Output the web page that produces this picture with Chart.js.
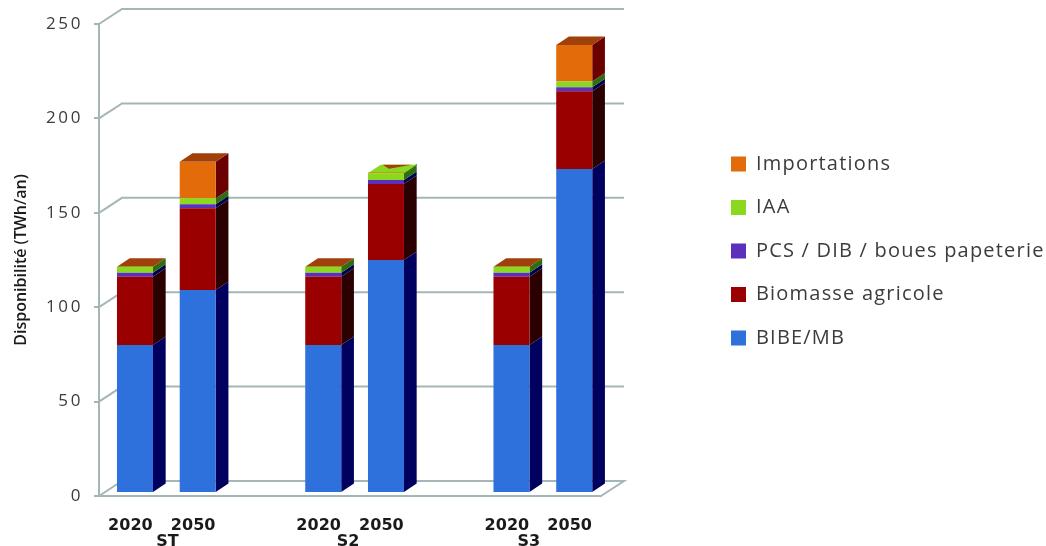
<!DOCTYPE html>
<html><head><meta charset="utf-8">
<style>html,body{margin:0;padding:0;background:#fff}canvas{display:block}</style>
<script src="https://cdn.jsdelivr.net/npm/chart.js@4/dist/chart.umd.min.js"></script>
</head><body><canvas id="c" width="1046" height="546"></canvas>
<script>
const categories = ['2020','2050','','2020','2050','','2020','2050'];
const groupLabels = ['ST','S2','S3'];
const groupSlots = [1.09,3.97,6.85];
const yTicks = [0,50,100,150,200,250];
const bibe = [78.4,107.5,null,78.4,123.4,null,78.4,171.6];
const biomasse = [36.2,43.3,null,36.2,40.3,null,36.2,41.2];
const pcs = [2.1,2.1,null,2.1,2.1,null,2.1,2.1];
const iaa = [3.2,3.2,null,3.2,3.5,null,3.2,3.1];
const importations = [0,19.4,null,0,0.4,null,0,19.3];

const GRID='#a5b6b6', TXT='#3c3c3c';
const DEPTH={dx:12.7,dy:-8.5}, WALL={dx:23,dy:-15}, BAR_SHIFT={dx:4.6,dy:-3};
const series=[
 {label:'BIBE/MB',data:bibe,color:'#2e70dc',side:'#00005e',top:'#a0400a'},
 {label:'Biomasse agricole',data:biomasse,color:'#9a0000',side:'#2a0000',top:'#a0400a'},
 {label:'PCS / DIB / boues papeterie',data:pcs,color:'#5a30bc',side:'#000050',top:'#a0400a'},
 {label:'IAA',data:iaa,color:'#8bd81e',side:'#2f6e10',top:'#5fa812'},
 {label:'Importations',data:importations,color:'#e36c0a',side:'#6a0000',top:'#a0400a'}
];
function poly(ctx,pts,fill){ctx.beginPath();pts.forEach((p,i)=>i?ctx.lineTo(p[0],p[1]):ctx.moveTo(p[0],p[1]));ctx.closePath();ctx.fillStyle=fill;ctx.fill();}
function spaced(obj,method,sp){
  if(obj['_w'+method])return;obj['_w'+method]=true;
  const orig=obj[method];
  obj[method]=function(...a){const c=this.ctx;const old=c.letterSpacing;c.letterSpacing=sp;orig.apply(this,a);c.letterSpacing=old;};
}
const threeD={
 id:'threeD',
 afterLayout(chart){
   const l=chart.legend;
   const pad=chart.options.plugins.legend.labels.padding;
   l.left=731-pad; l.right=1046; l.top=154-pad; l.bottom=546;
   spaced(chart.scales.y,'drawLabels','2.6px');
   spaced(l,'draw','1.2px');
 },
 beforeDatasetsDraw(chart){
   const ctx=chart.ctx,y=chart.scales.y,a=chart.chartArea;
   ctx.save();
   ctx.strokeStyle=GRID;ctx.lineWidth=2;
   yTicks.forEach(v=>{
     const p=y.getPixelForValue(v);
     ctx.beginPath();ctx.moveTo(a.left,p);ctx.lineTo(a.left+WALL.dx,p+WALL.dy);ctx.lineTo(a.right+WALL.dx,p+WALL.dy);
     if(v===0){ctx.lineTo(a.right,p);}
     ctx.stroke();
   });
   ctx.restore();
   ctx.save();
   ctx.translate(BAR_SHIFT.dx,BAR_SHIFT.dy);
   const d=DEPTH;
   categories.forEach((_,i)=>{
     let topIdx=-1;
     series.forEach((s,k)=>{
       const v=s.data[i];
       if(!v)return;
       const b=chart.getDatasetMeta(k).data[i];
       const r=b.x+b.width/2;
       poly(ctx,[[r,b.base],[r+d.dx,b.base+d.dy],[r+d.dx,b.y+d.dy],[r,b.y]],s.side);
       topIdx=k;
     });
     if(topIdx<0)return;
     const b=chart.getDatasetMeta(topIdx).data[i];
     const L=b.x-b.width/2,R=b.x+b.width/2,Y=b.y;
     const small=importations[i]>0&&importations[i]<2;
     if(small){
       const g=chart.getDatasetMeta(3).data[i];
       poly(ctx,[[L,g.y],[R,g.y],[R+d.dx,g.y+d.dy],[L+d.dx,g.y+d.dy]],series[3].color);
       poly(ctx,[[L+d.dx+2,g.y+d.dy],[R+d.dx-5,g.y+d.dy],[b.x+3,g.y+d.dy+4]],series[4].top);
     }else{
       poly(ctx,[[L,Y],[R,Y],[R+d.dx,Y+d.dy],[L+d.dx,Y+d.dy]],series[4].top);
     }
   });
 },
 afterDatasetsDraw(chart){chart.ctx.restore();}
};
new Chart(document.getElementById('c'),{
 type:'bar',
 data:{labels:categories,datasets:series.map(s=>({label:s.label,data:s.data,backgroundColor:s.color,borderWidth:0,barPercentage:36/62.75,categoryPercentage:1}))},
 plugins:[threeD],
 options:{
  responsive:false,animation:false,
  layout:{padding:{left:0,top:24,right:445,bottom:0}},
  scales:{
   x:{stacked:true,position:'bottom',weight:0,afterFit(s){s.height=36;},
      grid:{display:false,drawTicks:false},border:{display:true,color:GRID,width:2},
      ticks:{autoSkip:false,maxRotation:0,padding:20,color:'#1a1a1a',font:{family:'"DejaVu Sans"',size:16,weight:'bold'}}},
   x2:{type:'linear',axis:'x',position:'bottom',offset:false,weight:1,min:0,max:8,afterFit(s){s.height=14;},
      afterBuildTicks(s){s.ticks=groupSlots.map(v=>({value:v}));},
      grid:{display:false,drawTicks:false,offset:false},border:{display:false},
      ticks:{autoSkip:false,maxRotation:0,padding:0,color:'#1a1a1a',font:{family:'"DejaVu Sans"',size:16,weight:'bold'},
        callback(v){return groupLabels[groupSlots.indexOf(v)];}}},
   y:{stacked:true,min:0,max:250,afterFit(s){s.width=99;},
      afterBuildTicks(s){s.ticks=yTicks.map(v=>({value:v}));},
      grid:{drawOnChartArea:false,drawTicks:true,tickLength:5,color:GRID,lineWidth:2},border:{display:true,color:GRID,width:2},
      ticks:{padding:11,color:TXT,font:{family:'"Open Sans"',size:17}},
      title:{display:true,text:'Disponibilité (TWh/an)',color:'#1a1a1a',padding:{top:12,bottom:0},font:{family:'"Open Sans"',size:16,weight:'600'}}}
  },
  plugins:{
   tooltip:{enabled:false},
   legend:{position:'chartArea',align:'start',reverse:true,
     labels:{boxWidth:15,boxHeight:15,padding:23.5,color:TXT,font:{family:'"Open Sans"',size:20}}}
  }
 }
});
</script></body></html>
